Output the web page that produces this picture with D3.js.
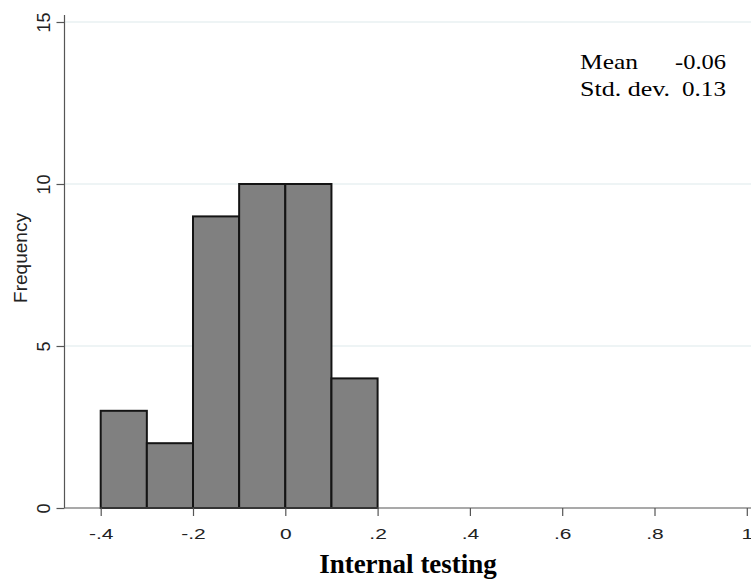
<!DOCTYPE html>
<html>
<head>
<meta charset="utf-8">
<script src="https://cdn.jsdelivr.net/npm/d3@7"></script>
<style>
  body { margin: 0; background: #fff; }
  svg { display: block; }
</style>
</head>
<body>
<div id="graph"></div>
<script>
// histogram bins (start, end) and counts
var binStarts = [-0.4, -0.3, -0.2, -0.1, 0.0, 0.1];
var binEnds = [-0.3, -0.2, -0.1, 0.0, 0.1, 0.2];
var counts = [3, 2, 9, 10, 10, 4];
var xTicks = [-0.4, -0.2, 0, 0.2, 0.4, 0.6, 0.8, 1];
var xTickLabels = ["-.4", "-.2", "0", ".2", ".4", ".6", ".8", "1"];
var yTicks = [0, 5, 10, 15];
var statLabels = ["Mean", "Std. dev."];
var statValues = ["-0.06", "0.13"];

var width = 751, height = 582;

var svg = d3.select("#graph")
  .append("svg")
  .attr("width", width)
  .attr("height", height);

var x = d3.scaleLinear().domain([0, 1]).range([285.3, 746.8]);
var y = d3.scaleLinear().domain([0, 15]).range([508, 22]);

var plotLeft = 64.5, plotRight = 751;
var sans = "Arial, 'Liberation Sans', sans-serif";
var serif = "'Times New Roman', 'Liberation Serif', serif";

// gridlines
svg.append("g")
  .selectAll("line")
  .data(yTicks.filter(function(d) { return d > 0; }))
  .enter()
  .append("line")
  .attr("x1", plotLeft)
  .attr("x2", plotRight)
  .attr("y1", function(d) { return y(d); })
  .attr("y2", function(d) { return y(d); })
  .attr("stroke", "#e8f0f2")
  .attr("stroke-width", 1.5);

// bars
svg.append("g")
  .selectAll("rect")
  .data(counts)
  .enter()
  .append("rect")
  .attr("x", function(d, i) { return x(binStarts[i]); })
  .attr("width", function(d, i) { return x(binEnds[i]) - x(binStarts[i]); })
  .attr("y", function(d) { return y(d); })
  .attr("height", function(d) { return y(0) - y(d); })
  .attr("fill", "#808080")
  .attr("stroke", "#141414")
  .attr("stroke-width", 2);

// x axis
var xAxis = svg.append("g")
  .attr("class", "x axis")
  .attr("transform", "translate(0," + y(0) + ")")
  .call(d3.axisBottom(x)
    .tickValues(xTicks)
    .tickSize(8)
    .tickFormat(function(d, i) { return xTickLabels[i]; }));
xAxis.select(".domain").remove();
xAxis.append("line")
  .attr("x1", plotLeft)
  .attr("x2", plotRight)
  .attr("stroke", "#555")
  .attr("stroke-width", 1.2);
xAxis.selectAll(".tick line").attr("stroke", "#555").attr("stroke-width", 1.2);
xAxis.selectAll(".tick text")
  .attr("y", 0)
  .attr("dy", 0)
  .attr("transform", "translate(0,31) scale(1.4,1)")
  .style("font-family", sans)
  .style("font-size", "15px")
  .attr("fill", "#222");

// y axis
var yAxis = svg.append("g")
  .attr("class", "y axis")
  .attr("transform", "translate(" + plotLeft + ",0)")
  .call(d3.axisLeft(y).tickValues(yTicks).tickSize(8).tickFormat(d3.format("d")));
yAxis.select(".domain").remove();
yAxis.append("line")
  .attr("y1", 15)
  .attr("y2", y(0))
  .attr("stroke", "#555")
  .attr("stroke-width", 1.2);
yAxis.selectAll(".tick line").attr("stroke", "#555").attr("stroke-width", 1.2);
yAxis.selectAll(".tick text")
  .attr("x", 0)
  .attr("dy", 0)
  .attr("transform", "translate(-14.5,0) rotate(-90)")
  .style("text-anchor", "middle")
  .style("font-family", sans)
  .style("font-size", "18px")
  .attr("fill", "#222");

// y axis label
svg.append("text")
  .attr("transform", "translate(27,258) rotate(-90)")
  .style("text-anchor", "middle")
  .style("font-family", sans)
  .style("font-size", "19px")
  .attr("fill", "#222")
  .text("Frequency");

// x axis title
svg.append("text")
  .attr("x", 408)
  .attr("y", 573)
  .style("text-anchor", "middle")
  .style("font-family", serif)
  .style("font-weight", "bold")
  .style("font-size", "27px")
  .attr("fill", "#000")
  .text("Internal testing");

// stats box
var labX = [580, 580], labW = [58, 90];
var valX = [675, 682], valW = [51, 44];
var rowY = [69, 96];
svg.selectAll("text.lab")
  .data(statLabels)
  .enter()
  .append("text")
  .attr("class", "lab")
  .attr("x", function(d, i) { return labX[i]; })
  .attr("y", function(d, i) { return rowY[i]; })
  .attr("textLength", function(d, i) { return labW[i]; })
  .attr("lengthAdjust", "spacingAndGlyphs")
  .style("font-family", serif)
  .style("font-size", "22px")
  .text(function(d) { return d; });
svg.selectAll("text.val")
  .data(statValues)
  .enter()
  .append("text")
  .attr("class", "val")
  .attr("x", function(d, i) { return valX[i]; })
  .attr("y", function(d, i) { return rowY[i]; })
  .attr("textLength", function(d, i) { return valW[i]; })
  .attr("lengthAdjust", "spacingAndGlyphs")
  .style("font-family", serif)
  .style("font-size", "22px")
  .text(function(d) { return d; });
</script>
</body>
</html>
